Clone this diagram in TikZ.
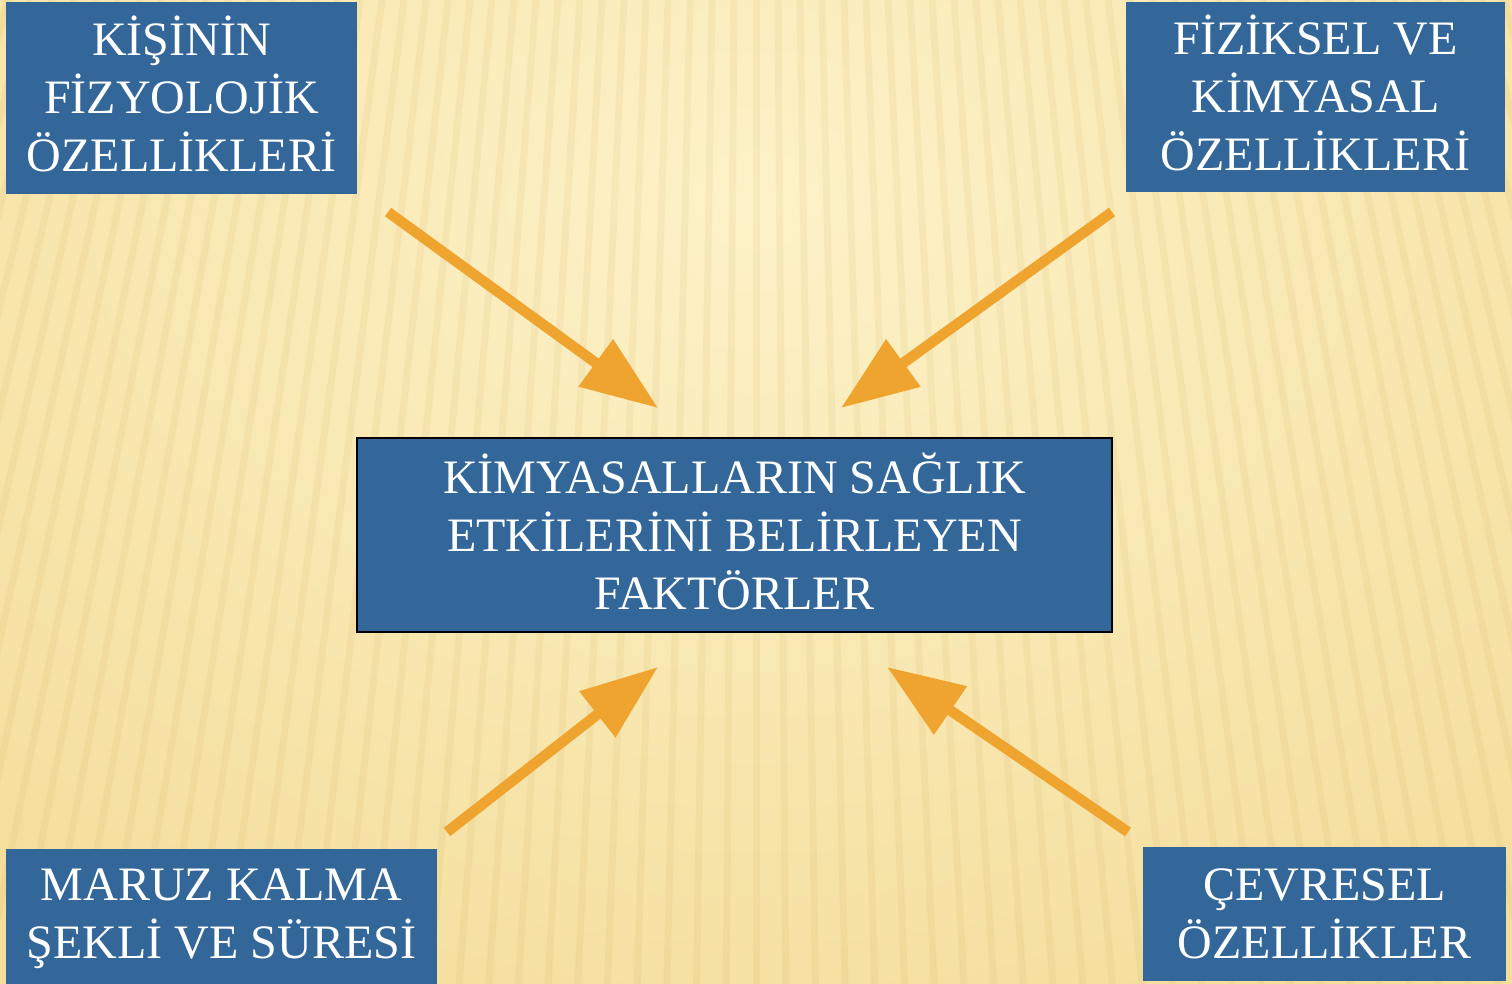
\documentclass[tikz,border=0pt]{standalone}
\usepackage{fontspec}
\setmainfont{Liberation Serif}
\usetikzlibrary{arrows.meta}
\definecolor{boxblue}{RGB}{52,103,153}
\definecolor{arrorange}{RGB}{240,164,48}
\definecolor{bgtop}{RGB}{253,242,200}
\definecolor{bgedge}{RGB}{244,222,156}
\definecolor{stripe}{RGB}{205,170,90}
\tikzset{
  fbox/.style={fill=boxblue, text=white, align=center, inner sep=0pt,
    font=\fontsize{48}{58}\selectfont},
  fatarrow/.style={draw=arrorange, line width=10.5pt,
    -{Triangle[length=77pt,width=56pt,fill=arrorange]}}
}
\begin{document}
\begin{tikzpicture}[x=1pt,y=-1pt]
\useasboundingbox (0,0) rectangle (1512,984);
\fill[bgedge] (0,0) rectangle (1512,984);
\shade[inner color=bgtop, outer color=bgedge] (-400,-700) rectangle (1912,1100);
\begin{scope}[opacity=0.11]
\foreach \x in {-300,-278,...,1820}{
  \draw[stripe, line width=7pt] (\x,0) -- ({\x+(\x-756)*0.35},984);
}
\end{scope}
% boxes
\node[fbox, text depth=8pt, minimum width=351pt, minimum height=192pt] (kisi) at (181.5,98) {KİŞİNİN\\FİZYOLOJİK\\ÖZELLİKLERİ};
\node[fbox, text depth=8pt, minimum width=379pt, minimum height=190pt] (fiz) at (1315.5,97) {FİZİKSEL VE\\KİMYASAL\\ÖZELLİKLERİ};
\node[fbox, text depth=8pt, draw=black, line width=2pt, minimum width=755pt, minimum height=194pt] (main) at (734.5,535) {KİMYASALLARIN SAĞLIK\\ETKİLERİNİ BELİRLEYEN\\FAKTÖRLER};
\node[fbox, text depth=6pt, minimum width=431pt, minimum height=136pt] (maruz) at (221.5,917) {MARUZ KALMA\\ŞEKLİ VE SÜRESİ};
\node[fbox, minimum width=363pt, minimum height=134pt] (cevre) at (1324.5,914) {ÇEVRESEL\\ÖZELLİKLER};
% arrow endpoints
\coordinate (a1s) at (388,212);
\coordinate (a1e) at (658,408);
\coordinate (a2s) at (1112,212);
\coordinate (a2e) at (841,408);
\coordinate (a3s) at (447,832);
\coordinate (a3e) at (658,667);
\coordinate (a4s) at (1128,832);
\coordinate (a4e) at (887,667);
\draw[fatarrow] (a1s) -- (a1e);
\draw[fatarrow] (a2s) -- (a2e);
\draw[fatarrow] (a3s) -- (a3e);
\draw[fatarrow] (a4s) -- (a4e);
\end{tikzpicture}
\end{document}
